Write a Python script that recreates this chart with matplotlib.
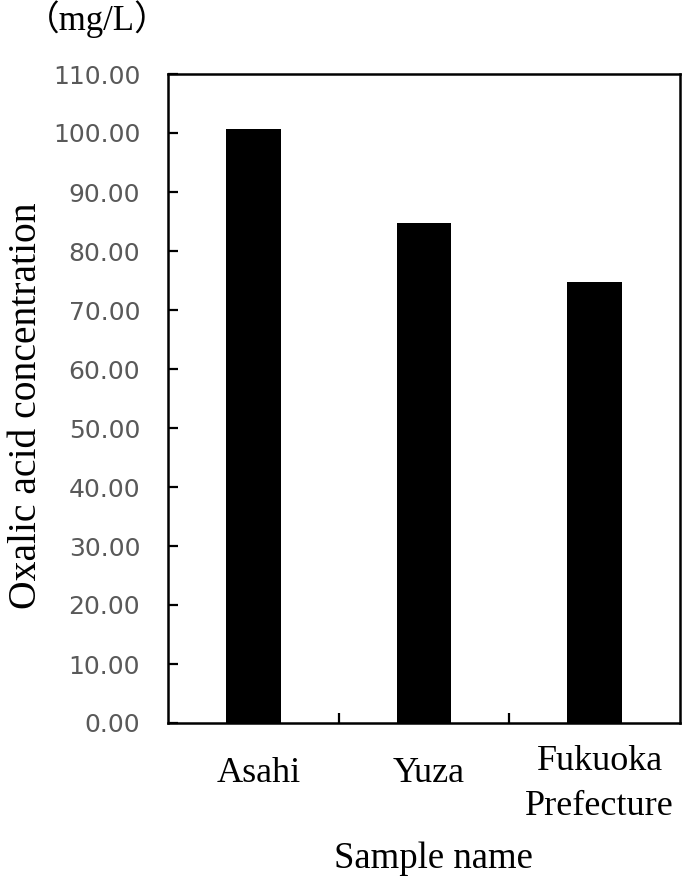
import matplotlib.pyplot as plt
import numpy as np

samples = ['Asahi', 'Yuza', 'Fukuoka\nPrefecture']
oxalic = [100.6, 84.8, 74.7]
yticks = np.arange(0, 111, 10)

serif = ['Liberation Serif', 'Noto Sans CJK JP']

fig = plt.figure(figsize=(6.85, 8.82), dpi=100)
ax = fig.add_axes([168 / 685, 1 - 723 / 882, (680 - 168) / 685, (723 - 74) / 882])

x = np.arange(len(samples))
ax.bar(x, oxalic, width=0.32, color='black')

ax.set_xlim(-0.5, 2.5)
ax.set_ylim(0, 110)
ax.set_yticks(yticks)
ax.set_yticklabels(['{:.2f}'.format(v) for v in yticks], family='DejaVu Sans',
                   fontsize=18, color='#595959')
ax.tick_params(axis='y', direction='in', length=7, width=1.6, pad=20)

# ticks between the categories, labels placed by hand (Excel centres multi-line ones)
ax.set_xticks([0.5, 1.5])
ax.set_xticklabels([])
ax.tick_params(axis='x', direction='in', length=7, width=1.6)
trans = ax.get_xaxis_transform()
for xi, name in zip(x, samples):
    yb = -0.0909 if '\n' not in name else -0.1418  # baseline of last line
    ax.text(xi + 0.03, yb, name, transform=trans, family=serif, fontsize=26,
            ha='center', va='baseline', multialignment='center', linespacing=1.5)

for s in ax.spines.values():
    s.set_linewidth(1.8)

fig.text(433 / 685, 1 - 868 / 882, 'Sample name', family=serif, fontsize=26.5,
         ha='center', va='baseline')
fig.text(27 / 685, 1 - 406 / 882, 'Oxalic acid concentration', family=serif,
         fontsize=28.5, rotation=90, ha='center', va='center')
fig.text(97 / 685, 1 - 30 / 882, '（mg/L）', family=serif, fontsize=25,
         ha='center', va='baseline')

plt.savefig('out.png', dpi=100)
